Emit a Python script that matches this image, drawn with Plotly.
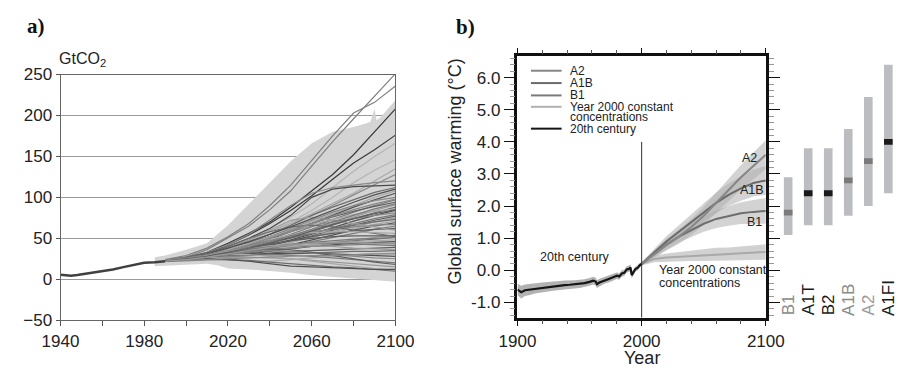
import plotly.graph_objects as go

W, H = 919, 377
def px(x): return x / W
def py(y): return 1 - y / H

FONT = "Liberation Sans, Arial, sans-serif"
SERIF = "Liberation Serif, Times New Roman, serif"

# ---------------- Panel a data (GtCO2) ----------------
hist_years = [1940, 1943, 1945, 1948, 1950, 1955, 1960, 1965, 1970, 1975, 1980, 1985, 1990]
hist_co2 = [5.5, 5.0, 4.3, 5.2, 6.0, 7.3, 9.5, 12.0, 14.8, 17.0, 20.0, 20.8, 22.0]

env_years = [1985, 1990, 2000, 2010, 2020, 2030, 2040, 2050, 2060, 2070, 2080, 2085, 2088, 2090, 2091, 2093, 2100]
env_high = [27, 29, 36, 44, 66, 92, 118, 144, 166, 180, 186, 190, 192, 208, 194, 198, 219]
env_low_years = [1985, 1990, 2000, 2010, 2015, 2020, 2030, 2040, 2050, 2060, 2070, 2080, 2090, 2100]
env_low = [16, 17, 18, 19, 17, 13, 12, 10, 8, 5, 3, 1, -1, -3]

path_years = [1990, 2000, 2010, 2020, 2030, 2040, 2050, 2060, 2070, 2080, 2090, 2100]

high_paths = [
    [23, 27, 36, 50, 65, 85, 108, 138, 168, 196, 224, 251],
    [24, 29, 38, 52, 68, 90, 115, 145, 175, 203, 216, 236],
    [22, 26, 33, 44, 56, 70, 88, 108, 128, 152, 180, 208],
    [22, 26, 32, 42, 54, 68, 84, 102, 122, 142, 158, 176],
    [22, 25, 31, 40, 50, 62, 76, 92, 112, 132, 150, 166],
    [22, 25, 30, 38, 47, 58, 70, 84, 100, 118, 133, 146],
    [22, 26, 31, 39, 48, 58, 68, 80, 92, 105, 120, 135],
    [22, 25, 30, 37, 45, 55, 66, 78, 90, 103, 116, 128],
    [23, 27, 33, 42, 55, 72, 90, 105, 112, 115, 118, 120],
    [22, 26, 32, 40, 50, 62, 78, 100, 110, 113, 114, 115],
]
mid_paths = [
    [22, 25, 30, 37, 45, 55, 66, 78, 88, 97, 106, 112],
    [22, 25, 29, 35, 42, 50, 60, 70, 80, 90, 100, 108],
    [22, 24, 28, 34, 41, 49, 58, 68, 78, 88, 97, 105],
    [22, 25, 30, 36, 43, 52, 62, 72, 82, 90, 96, 100],
    [22, 25, 29, 34, 40, 47, 55, 64, 73, 82, 90, 97],
    [23, 27, 32, 38, 45, 52, 60, 68, 76, 83, 89, 94],
    [22, 25, 29, 34, 40, 46, 53, 60, 68, 76, 84, 91],
    [22, 24, 28, 32, 38, 44, 51, 58, 66, 74, 81, 88],
    [22, 26, 31, 37, 44, 52, 60, 67, 73, 79, 83, 86],
    [22, 24, 27, 31, 36, 42, 48, 55, 63, 71, 78, 84],
    [22, 25, 29, 35, 42, 50, 58, 65, 70, 74, 78, 81],
    [22, 24, 28, 33, 38, 44, 50, 56, 62, 68, 74, 79],
    [22, 25, 28, 32, 36, 41, 47, 53, 60, 66, 72, 77],
    [22, 24, 27, 30, 34, 39, 45, 52, 58, 64, 70, 75],
    [22, 25, 29, 34, 39, 45, 51, 57, 62, 66, 70, 73],
    [22, 24, 27, 31, 35, 40, 45, 51, 57, 62, 67, 71],
    [22, 24, 26, 29, 33, 37, 42, 48, 54, 60, 65, 69],
    [23, 26, 30, 35, 41, 47, 53, 58, 61, 64, 66, 67],
    [22, 24, 27, 30, 33, 37, 41, 46, 51, 56, 61, 65],
    [22, 25, 28, 32, 37, 42, 47, 52, 56, 59, 61, 62],
    [22, 25, 30, 38, 48, 60, 72, 76, 72, 68, 64, 60],
    [22, 26, 32, 40, 50, 58, 64, 66, 64, 60, 56, 52],
    [22, 25, 30, 36, 43, 49, 54, 57, 58, 58, 57, 56],
    [22, 26, 31, 38, 46, 55, 64, 74, 84, 94, 103, 110],
    [23, 26, 30, 35, 42, 50, 59, 68, 77, 85, 92, 98],
    [22, 24, 27, 32, 38, 45, 53, 61, 70, 78, 86, 92],
    [22, 25, 29, 33, 38, 44, 51, 59, 67, 74, 80, 85],
]
low_paths = [
    [22, 24, 27, 30, 33, 36, 39, 42, 45, 48, 51, 54],
    [22, 24, 26, 29, 32, 35, 38, 41, 44, 47, 49, 51],
    [22, 25, 28, 31, 34, 37, 40, 42, 44, 46, 47, 48],
    [22, 24, 26, 28, 31, 34, 37, 40, 42, 44, 45, 46],
    [22, 24, 27, 30, 33, 36, 38, 40, 41, 42, 43, 44],
    [22, 25, 28, 32, 36, 40, 43, 44, 44, 43, 42, 41],
    [22, 24, 26, 28, 30, 32, 34, 35, 36, 37, 38, 39],
    [22, 25, 29, 34, 38, 41, 42, 41, 40, 38, 37, 36],
    [22, 24, 26, 27, 29, 30, 31, 32, 33, 34, 34, 35],
    [22, 22, 24, 24, 22, 22, 24, 26, 28, 30, 31, 32],
    [22, 24, 26, 28, 30, 31, 32, 32, 31, 30, 29, 28],
    [22, 25, 28, 31, 34, 35, 34, 32, 30, 28, 26, 25],
    [22, 24, 26, 28, 29, 30, 29, 28, 26, 24, 22, 20],
    [22, 25, 28, 32, 35, 37, 36, 33, 29, 25, 21, 18],
    [22, 24, 26, 27, 27, 26, 25, 23, 21, 19, 17, 15],
    [22, 23, 24, 24, 23, 21, 19, 17, 15, 14, 12, 10],
    [22, 25, 28, 30, 30, 28, 25, 22, 19, 16, 13, 11],
    [22, 24, 25, 24, 22, 19, 16, 15, 14, 13, 12, 12],
    [22, 23, 24, 25, 26, 27, 28, 29, 29, 30, 31, 31],
    [22, 24, 27, 30, 34, 38, 42, 45, 47, 49, 50, 51],
    [22, 25, 28, 33, 38, 43, 47, 50, 52, 53, 53, 53],
    [22, 24, 27, 31, 35, 39, 42, 44, 45, 45, 44, 43],
]

# ---------------- Panel b data (warming, deg C) ----------------
c20_years = [1900, 1903, 1906, 1910, 1914, 1918, 1922, 1926, 1930, 1934, 1938, 1942, 1946,
             1950, 1954, 1958, 1961, 1963, 1964, 1966, 1970, 1974, 1978, 1980, 1982, 1984,
             1986, 1988, 1990, 1991, 1992, 1993, 1995, 1997, 1998, 2000]
c20_temp = [-0.60, -0.68, -0.62, -0.60, -0.56, -0.55, -0.52, -0.50, -0.49, -0.47, -0.46, -0.45, -0.44,
            -0.42, -0.40, -0.36, -0.32, -0.35, -0.43, -0.38, -0.31, -0.26, -0.20, -0.17, -0.19, -0.10,
            -0.08, 0.03, 0.05, 0.09, -0.15, -0.08, 0.04, 0.08, 0.14, 0.20]
c20_spread = [0.18, 0.2, 0.18, 0.17, 0.16, 0.16, 0.15, 0.15, 0.14, 0.14, 0.14, 0.13, 0.13,
              0.13, 0.12, 0.12, 0.12, 0.12, 0.12, 0.12, 0.11, 0.11, 0.11, 0.1, 0.1, 0.1,
              0.1, 0.1, 0.1, 0.1, 0.1, 0.1, 0.08, 0.08, 0.07, 0.06]

scen_years = [2000, 2010, 2020, 2030, 2040, 2050, 2060, 2070, 2080, 2090, 2100]
a2_temp = [0.2, 0.5, 0.8, 1.05, 1.35, 1.7, 2.1, 2.5, 2.9, 3.25, 3.6]
a2_spread = [0.05, 0.12, 0.18, 0.22, 0.25, 0.28, 0.32, 0.35, 0.38, 0.42, 0.45]
a1b_temp = [0.2, 0.55, 0.9, 1.2, 1.5, 1.8, 2.1, 2.35, 2.55, 2.72, 2.8]
a1b_spread = [0.05, 0.12, 0.17, 0.2, 0.24, 0.28, 0.32, 0.35, 0.38, 0.42, 0.45]
b1_temp = [0.2, 0.5, 0.8, 1.05, 1.25, 1.45, 1.6, 1.7, 1.78, 1.82, 1.85]
b1_spread = [0.05, 0.12, 0.15, 0.18, 0.22, 0.25, 0.28, 0.31, 0.34, 0.37, 0.4]
com_temp = [0.2, 0.35, 0.4, 0.42, 0.45, 0.47, 0.5, 0.5, 0.53, 0.55, 0.57]
com_spread = [0.05, 0.1, 0.12, 0.14, 0.16, 0.18, 0.2, 0.21, 0.22, 0.23, 0.24]

bar_scen = ["B1", "A1T", "B2", "A1B", "A2", "A1FI"]
bar_low = [1.1, 1.4, 1.4, 1.7, 2.0, 2.4]
bar_high = [2.9, 3.8, 3.8, 4.4, 5.4, 6.4]
bar_best = [1.8, 2.4, 2.4, 2.8, 3.4, 4.0]

# styles
best_colors = ["#7a7a7a", "#1a1a1a", "#1a1a1a", "#7a7a7a", "#7a7a7a", "#1a1a1a"]
label_colors = ["#8a8a8a", "#1a1a1a", "#1a1a1a", "#8a8a8a", "#9a9a9a", "#1a1a1a"]
path_colors = ["#7a7a7a", "#5e5e5e", "#9a9a9a", "#6e6e6e", "#a8a8a8", "#505050", "#888888"]
top_cols = ["#7f7f7f", "#7f7f7f", "#3a3a3a", "#3a3a3a", "#b5b5b5", "#b5b5b5", "#a8a8a8",
            "#8a8a8a", "#8a8a8a", "#4a4a4a"]

fig = go.Figure()

# ---- Panel a ----
fig.add_trace(go.Scatter(
    x=env_years + env_low_years[::-1], y=env_high + env_low[::-1],
    fill="toself", fillcolor="#d4d4d4", line=dict(width=0), mode="lines",
    xaxis="x", yaxis="y", hoverinfo="skip", showlegend=False))

all_paths = high_paths + mid_paths + low_paths
for i, p in enumerate(all_paths):
    col = top_cols[i] if i < len(top_cols) else path_colors[i % len(path_colors)]
    fig.add_trace(go.Scatter(x=path_years, y=p, mode="lines",
                             line=dict(color=col, width=1.2),
                             xaxis="x", yaxis="y", hoverinfo="skip", showlegend=False))

fig.add_trace(go.Scatter(x=hist_years, y=hist_co2, mode="lines",
                         line=dict(color="#404040", width=2.5),
                         xaxis="x", yaxis="y", showlegend=False))

# ---- Panel b ----
def band(xs, center, spread, color):
    lo = [c - s for c, s in zip(center, spread)]
    hi = [c + s for c, s in zip(center, spread)]
    fig.add_trace(go.Scatter(x=xs + xs[::-1], y=hi + lo[::-1], fill="toself",
                             fillcolor=color, line=dict(width=0), mode="lines",
                             xaxis="x2", yaxis="y2", hoverinfo="skip", showlegend=False))

band(c20_years, c20_temp, c20_spread, "rgba(165,165,165,0.85)")
band(scen_years, a2_temp, a2_spread, "rgba(175,175,175,0.55)")
band(scen_years, a1b_temp, a1b_spread, "rgba(175,175,175,0.55)")
band(scen_years, b1_temp, b1_spread, "rgba(175,175,175,0.55)")
band(scen_years, com_temp, com_spread, "rgba(190,190,190,0.7)")

line_specs = [
    (scen_years, com_temp, "#a9a9a9", 2),
    (scen_years, b1_temp, "#6e6e6e", 2),
    (scen_years, a1b_temp, "#6a6a6a", 2),
    (scen_years, a2_temp, "#868686", 2),
    (c20_years, c20_temp, "#151515", 2.2),
]
for xs, ys, col, w in line_specs:
    fig.add_trace(go.Scatter(x=xs, y=ys, mode="lines", line=dict(color=col, width=w),
                             xaxis="x2", yaxis="y2", hoverinfo="skip", showlegend=False))

# vertical line at 2000
fig.add_trace(go.Scatter(x=[2000, 2000], y=[-1.5, 4.0], mode="lines",
                         line=dict(color="#333333", width=1), xaxis="x2", yaxis="y2",
                         hoverinfo="skip", showlegend=False))

# ---- Bars panel ----
fig.add_trace(go.Bar(x=list(range(len(bar_scen))),
                     y=[h - l for h, l in zip(bar_high, bar_low)], base=bar_low,
                     width=0.43, marker=dict(color="#bcbdc0", line=dict(width=0)),
                     xaxis="x3", yaxis="y3", showlegend=False, hoverinfo="skip"))
fig.add_trace(go.Bar(x=list(range(len(bar_scen))),
                     y=[0.18] * len(bar_best), base=[b - 0.09 for b in bar_best],
                     width=0.43, marker=dict(color=best_colors, line=dict(width=0)),
                     xaxis="x3", yaxis="y3", showlegend=False, hoverinfo="skip"))

annotations = []
for i, (lab, col) in enumerate(zip(bar_scen, label_colors)):
    annotations.append(dict(x=i, y=py(325), xref="x3", yref="paper", text=lab,
                            textangle=-90, showarrow=False, xanchor="center", yanchor="bottom",
                            font=dict(family=FONT, size=17, color=col)))

def note(x, y, text, size=12.5, xanchor="center", xref="paper", yref="paper", **kw):
    annotations.append(dict(x=x, y=y, xref=xref, yref=yref, text=text, showarrow=False,
                            xanchor=xanchor, yanchor="middle", borderpad=0,
                            font=dict(family=kw.pop("family", FONT), size=size,
                                      color=kw.pop("color", "#222")), **kw))

note(px(7), py(18), "<b>a)</b>", size=21, xanchor="left", family=SERIF, color="#111")
note(px(455), py(19), "<b>b)</b>", size=21, xanchor="left", family=SERIF, color="#111")
note(px(41), py(53), "GtCO<sub>2</sub>", size=16, xanchor="left")
note(px(455), py(171), "Global surface warming (°C)", size=18, textangle=-90)
note(px(650), py(367), "Year", size=18)
note(2087, 3.5, "A2", xref="x2", yref="y2")
note(2089, 2.49, "A1B", xref="x2", yref="y2")
note(2091, 1.49, "B1", xref="x2", yref="y2")
note(1946, 0.4, "20th century", xref="x2", yref="y2")
note(px(667), py(275), "Year 2000 constant", xanchor="left")
note(px(667), py(289), "concentrations", xanchor="left")

# manual legend for panel b
legend_items = [("A2", "#868686", 65), ("A1B", "#6a6a6a", 78), ("B1", "#7a7a7a", 91),
                ("Year 2000 constant", "#b0b0b0", 103), ("20th century", "#151515", 126)]
shapes = []
for txt, col, yy in legend_items:
    shapes.append(dict(type="line", xref="paper", yref="paper", x0=px(534), x1=px(566),
                       y0=py(yy), y1=py(yy), line=dict(color=col, width=2)))
    note(px(574), py(yy), txt, size=12, xanchor="left")
note(px(574), py(114), "concentrations", size=12, xanchor="left")

yb_range = [-1 - (325 - 309) / 33.81, 6 + (72.3 - 50) / 33.81]

fig.update_layout(
    width=W, height=H, margin=dict(l=0, r=0, t=0, b=0),
    paper_bgcolor="white", plot_bgcolor="white",
    showlegend=False, barmode="overlay",
    font=dict(family=FONT, color="#222"),
    annotations=annotations, shapes=shapes,
    xaxis=dict(domain=[px(43.3), px(392.7)], range=[1940, 2100],
               tickvals=[1940, 1980, 2020, 2060, 2100],
               ticks="outside", ticklen=5, tickcolor="#555",
               minor=dict(tick0=1940, dtick=20, ticks="outside", ticklen=5, tickcolor="#555"),
               showgrid=False, zeroline=False,
               showline=True, linecolor="#666", linewidth=1, mirror=True,
               tickfont=dict(size=17, family=FONT, color="#222"), anchor="y"),
    yaxis=dict(domain=[py(327.7), py(69)], range=[-50, 250], dtick=50,
               ticks="outside", ticklen=4, tickcolor="#555", showgrid=True,
               gridcolor="#9a9a9a", gridwidth=1, zeroline=False,
               showline=True, linecolor="#666", linewidth=1, mirror=True,
               tickfont=dict(size=17, family=FONT, color="#222"), anchor="x"),
    xaxis2=dict(domain=[px(520), px(779)], range=[1900, 2100],
                tickvals=[1900, 2000, 2100], ticks="outside", ticklen=6, tickcolor="#111",
                minor=dict(tick0=1900, dtick=20, ticks="outside", ticklen=4, tickcolor="#555"),
                showgrid=False, zeroline=False, showline=True, linecolor="#111", linewidth=2.5,
                mirror="allticks", tickfont=dict(size=17, family=FONT, color="#222"), anchor="y2"),
    yaxis2=dict(domain=[py(325), py(50)], range=yb_range,
                tickvals=[-1, 0, 1, 2, 3, 4, 5, 6],
                ticktext=["-1.0", "0.0", "1.0", "2.0", "3.0", "4.0", "5.0", "6.0"],
                ticks="outside", ticklen=11, tickcolor="#111",
                minor=dict(tick0=0, dtick=0.2, ticks="outside", ticklen=5, tickcolor="#999"),
                showgrid=False, zeroline=False, showline=True, linecolor="#111", linewidth=2.5,
                mirror="allticks", tickfont=dict(size=17, family=FONT, color="#222"), anchor="x2"),
    xaxis3=dict(domain=[px(791.9), px(917.3)], range=[-0.5, 5.5], visible=False, anchor="y3"),
    yaxis3=dict(domain=[py(325), py(50)], range=yb_range, visible=False, anchor="x3"),
)

fig.write_html("out.html")
